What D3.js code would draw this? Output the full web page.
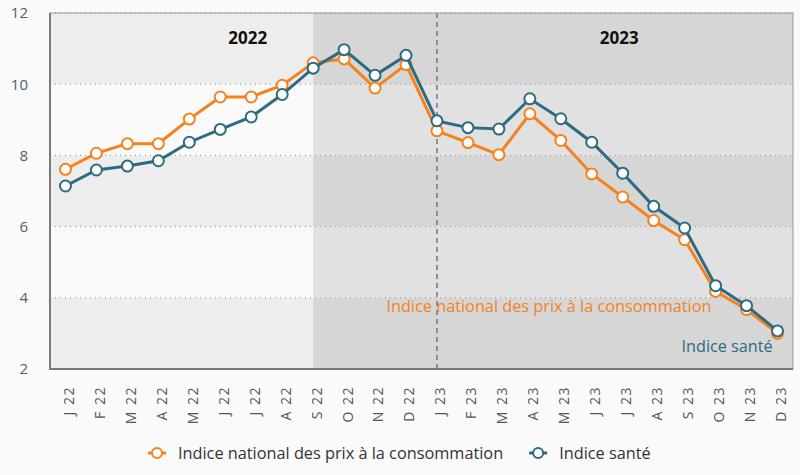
<!DOCTYPE html>
<html>
<head>
<meta charset="utf-8">
<script src="https://d3js.org/d3.v7.min.js"></script>
<style>
  body { margin: 0; background: #fafafa; }
  text { font-family: "Open Sans", sans-serif; }
</style>
</head>
<body>
<div id="chart"></div>
<script>
const months = ["J 22","F 22","M 22","A 22","M 22","J 22","J 22","A 22","S 22","O 22","N 22","D 22",
                "J 23","F 23","M 23","A 23","M 23","J 23","J 23","A 23","S 23","O 23","N 23","D 23"];
const inpc = [7.61, 8.06, 8.33, 8.33, 9.02, 9.64, 9.64, 9.97, 10.6, 10.71, 9.89, 10.55,
              8.69, 8.36, 8.02, 9.17, 8.42, 7.48, 6.83, 6.17, 5.63, 4.18, 3.67, 3.0];
const sante = [7.14, 7.59, 7.70, 7.85, 8.37, 8.73, 9.08, 9.71, 10.45, 10.97, 10.25, 10.81,
               8.97, 8.78, 8.74, 9.59, 9.03, 8.37, 7.5, 6.57, 5.96, 4.34, 3.78, 3.07];
const yTicks = [2, 4, 6, 8, 10, 12];
const years = ["2022", "2023"];
const seriesNames = ["Indice national des prix à la consommation", "Indice santé"];
const colors = ["#f5821f", "#2d6b80"];

const W = 800, H = 475;
const m = { top: 13, right: 7, bottom: 106, left: 50 };
const w = W - m.left - m.right, h = H - m.top - m.bottom;

const svg = d3.select("#chart").append("svg").attr("width", W).attr("height", H);
const g = svg.append("g").attr("transform", `translate(${m.left},${m.top})`);

const x = d3.scalePoint().domain(d3.range(months.length)).range([0, w]).padding(0.5);
const y = d3.scaleLinear().domain([2, 12]).range([h, 0]);

// background bands: lighter before S 22, darker after
const split = x(8);
[[0, split, ["#ededed", "#fafafa"]], [split, w, ["#d6d6d6", "#e1e1e1"]]].forEach(([x0, x1, cols]) => {
  for (let i = 0; i < yTicks.length - 1; i++) {
    g.append("rect")
      .attr("x", x0).attr("width", x1 - x0)
      .attr("y", y(yTicks[i + 1])).attr("height", y(yTicks[i]) - y(yTicks[i + 1]))
      .attr("fill", cols[(yTicks.length - 2 - i) % 2]);
  }
});

// grid
g.selectAll(".grid").data(yTicks.slice(1)).enter().append("line")
  .attr("x1", 0).attr("x2", w).attr("y1", d => y(d)).attr("y2", d => y(d))
  .attr("stroke", "#8a8a8a").attr("stroke-dasharray", "1,4");

// year divider
g.append("line").attr("x1", x(12)).attr("x2", x(12)).attr("y1", 0).attr("y2", h)
  .attr("stroke", "#777").attr("stroke-width", 1.5).attr("stroke-dasharray", "5,4");

// frame
g.append("rect").attr("width", w).attr("height", h).attr("fill", "none").attr("stroke", "#999");
g.append("path").attr("d", `M0,0V${h}H${w}`).attr("fill", "none").attr("stroke", "#7a7a7a").attr("stroke-width", 2);

// year labels
g.append("text").attr("x", (x(0) + x(11)) / 2 + 12).attr("y", 31).attr("text-anchor", "middle")
  .attr("font-weight", "bold").attr("font-size", 17).attr("fill", "#111").text(years[0]);
g.append("text").attr("x", (x(12) + x(23)) / 2 + 12).attr("y", 31).attr("text-anchor", "middle")
  .attr("font-weight", "bold").attr("font-size", 17).attr("fill", "#111").text(years[1]);

// y axis
const ya = g.append("g").call(d3.axisLeft(y).tickValues(yTicks).tickSize(0).tickPadding(22));
ya.select(".domain").remove();
ya.selectAll("text").attr("font-size", 15).attr("fill", "#4f6072").attr("font-family", "Open Sans");

// x axis
const xa = g.append("g").attr("transform", `translate(0,${h})`)
  .call(d3.axisBottom(x).tickFormat(i => months[i]).tickSize(0));
xa.select(".domain").remove();
xa.selectAll("text")
  .attr("font-size", 14).attr("fill", "#555").attr("font-family", "DejaVu Sans")
  .attr("letter-spacing", 1.5)
  .attr("text-anchor", "end").attr("dy", "0.35em")
  .attr("transform", "translate(0,17) rotate(-90)");

// lines
const line = d3.line().x((d, i) => x(i)).y(d => y(d));
[inpc, sante].forEach((s, k) => {
  g.append("path").datum(s).attr("d", line).attr("fill", "none")
    .attr("stroke", colors[k]).attr("stroke-width", 3);
  g.selectAll(".pt" + k).data(s).enter().append("circle")
    .attr("cx", (d, i) => x(i)).attr("cy", d => y(d)).attr("r", 5.5)
    .attr("fill", "#fff").attr("stroke", colors[k]).attr("stroke-width", 2);
});

// direct labels
g.append("text").attr("x", x(23) - 66).attr("y", y(3.6)).attr("text-anchor", "end")
  .attr("font-size", 16.3).attr("fill", colors[0]).text(seriesNames[0]);
g.append("text").attr("x", x(23) - 5).attr("y", y(2.47)).attr("text-anchor", "end")
  .attr("font-size", 16.2).attr("fill", colors[1]).text(seriesNames[1]);

// legend
const lg = svg.append("g").attr("transform", "translate(148,453)");
let off = 0;
seriesNames.forEach((n, k) => {
  const it = lg.append("g").attr("transform", `translate(${off},0)`);
  it.append("line").attr("x1", 0).attr("x2", 18).attr("stroke", colors[k]).attr("stroke-width", 3);
  it.append("circle").attr("cx", 9).attr("r", 5).attr("fill", "#fff").attr("stroke", colors[k]).attr("stroke-width", 2);
  const t = it.append("text").attr("x", 30).attr("dy", "0.35em").attr("font-size", 16.3)
    .attr("fill", "#333").text(n);
  off += 30 + t.node().getComputedTextLength() + 26;
});
</script>
</body>
</html>
